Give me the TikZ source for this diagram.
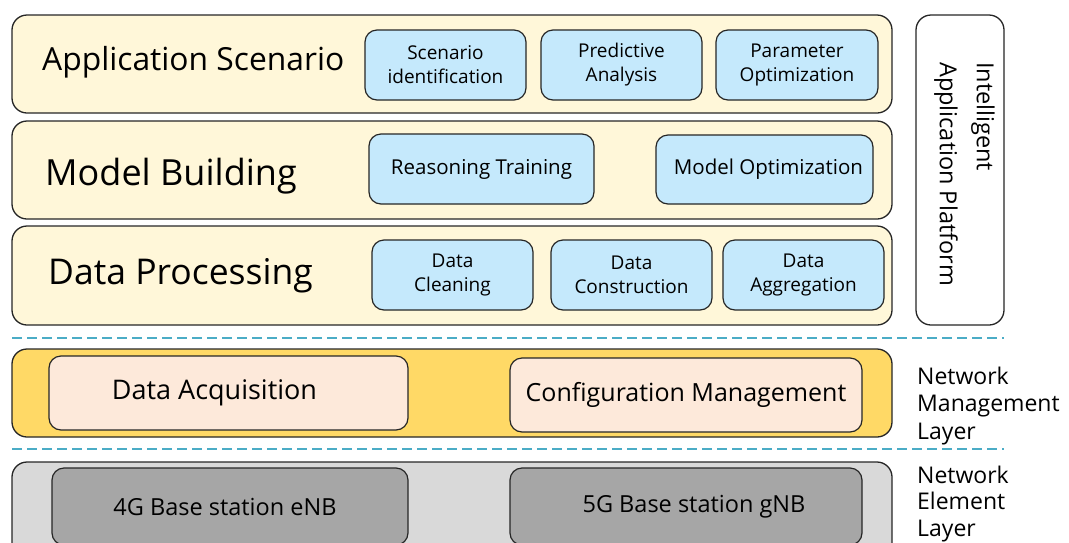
\documentclass[tikz,border=0pt]{standalone}
\usepackage{fontspec}
\setmainfont{Open Sans}
\begin{document}
\begin{tikzpicture}[x=1pt,y=-1pt,
  layer/.style={draw=black!85,line width=1.3pt,rounded corners=15pt,minimum width=880pt,inner sep=0pt},
  cream/.style={layer,fill=creamc,minimum height=98pt},
  item/.style={draw=black!85,line width=1.2pt,rounded corners=12pt,inner sep=0pt,align=center,font=\fontsize{19}{24}\selectfont},
  blue/.style={item,fill=bluec},
  peach/.style={item,fill=peachc},
  dgray/.style={item,fill=dgrayc,font=\fontsize{23.5}{26}\selectfont},
  title/.style={anchor=west,inner sep=0pt},
  side/.style={anchor=west,inner sep=0pt,align=left,font=\fontsize{23}{27.5}\selectfont},
  sep/.style={draw=sepc,line width=2.6pt,dash pattern=on 10pt off 5pt}
]
\definecolor{creamc}{HTML}{FFF7D9}
\definecolor{bluec}{HTML}{C5E9FC}
\definecolor{peachc}{HTML}{FDE9DA}
\definecolor{orangec}{HTML}{FFD966}
\definecolor{lgrayc}{HTML}{D9D9D9}
\definecolor{dgrayc}{HTML}{A6A6A6}
\definecolor{sepc}{HTML}{4BACC6}
\useasboundingbox (0,0) rectangle (1069,542);
\clip (0,0) rectangle (1069,542);
% layers
\node[cream] (L1) at (452,64) {};
\node[cream] (L2) at (452,170) {};
\node[cream,minimum height=99pt] (L3) at (452,275.5) {};
\node[layer,fill=white,minimum width=88pt,minimum height=310pt] (plat) at (960,170) {};
\node[layer,fill=orangec,minimum height=88pt] (L4) at (452,393) {};
\node[layer,fill=lgrayc,minimum height=98pt] (L5) at (452,511) {};
% titles
\node[title,font=\fontsize{31.8}{33}\selectfont] (t1) at (42,62) {Application Scenario};
\node[title,font=\fontsize{36}{38}\selectfont] (t2) at (45,176) {Model Building};
\node[title,font=\fontsize{35.5}{38}\selectfont] (t3) at (48,276) {Data Processing};
% blue items
\node[blue,minimum width=161pt,minimum height=70pt] (scen) at (445.5,65) {Scenario\\identification};
\node[blue,minimum width=161pt,minimum height=70pt] (pred) at (621.5,65) {Predictive\\Analysis};
\node[blue,minimum width=162pt,minimum height=70pt] (param) at (797,65) {Parameter\\Optimization};
\node[blue,minimum width=225pt,minimum height=70pt,font=\fontsize{20.5}{24}\selectfont] (reas) at (481.5,169) {Reasoning Training};
\node[blue,minimum width=217pt,minimum height=69pt,font=\fontsize{20.5}{24}\selectfont] (mopt) at (764.5,169.5) {\hspace*{8pt}Model Optimization};
\node[blue,minimum width=161pt,minimum height=70pt] (clean) at (452.5,275) {Data\\Cleaning};
\node[blue,minimum width=161pt,minimum height=70pt] (constr) at (631.5,275) {Data\\Construction};
\node[blue,minimum width=161pt,minimum height=70pt] (aggr) at (803.5,275) {Data\\Aggregation};
% management items
\node[peach,minimum width=359pt,minimum height=74pt,font=\fontsize{27}{30}\selectfont] (acq) at (228.5,393) {Data Acquisition\hspace*{28pt}};
\node[peach,minimum width=352pt,minimum height=74pt,font=\fontsize{25}{30}\selectfont] (conf) at (686,395) {Configuration Management};
% element items
\node[dgray,minimum width=356pt,minimum height=77pt] (g4) at (230,506.5) {4G Base station eNB\hspace*{10pt}};
\node[dgray,minimum width=352pt,minimum height=77pt] (g5) at (686,506.5) {\hspace*{16pt}5G Base station gNB};
% platform label
\node[rotate=-90,anchor=west,align=left,inner sep=0pt,font=\fontsize{23.5}{37}\selectfont] (pl) at (964.5,62) {Intelligent\\Application Platform};
% side labels
\node[side] (nm) at (917,406) {Network\\Management\\Layer};
\node[side,font=\fontsize{23}{26.5}\selectfont] (ne) at (917,504) {Network\\Element\\Layer};
% separators
\coordinate (s1a) at (12,338); \coordinate (s1b) at (1004,338);
\coordinate (s2a) at (12,449); \coordinate (s2b) at (1004,449);
\draw[sep] (s1a) -- (s1b);
\draw[sep] (s2a) -- (s2b);
\end{tikzpicture}
\end{document}
